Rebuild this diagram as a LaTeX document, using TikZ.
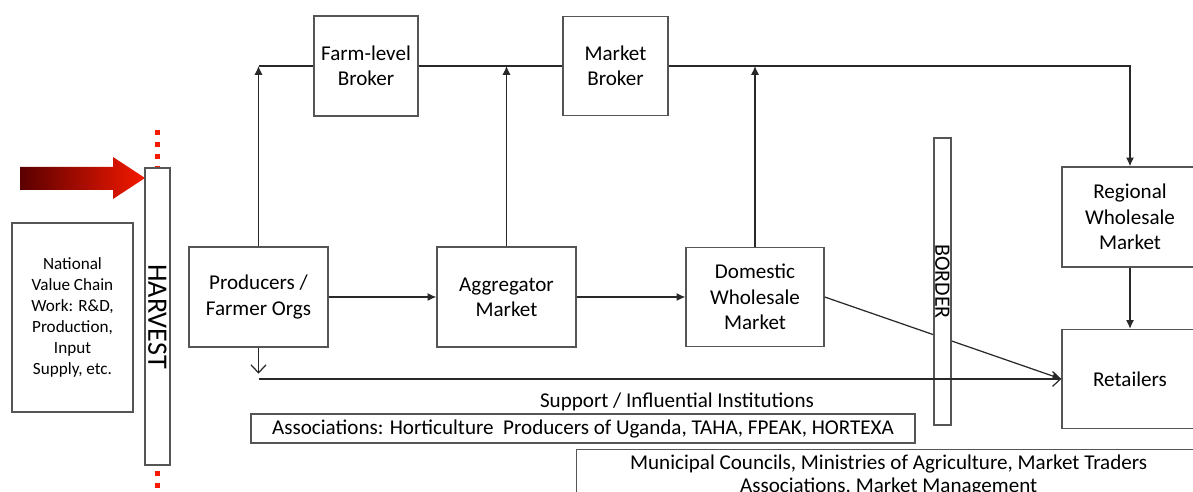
\documentclass[tikz,border=0pt]{standalone}
\usepackage{fontspec}
\setmainfont{Carlito}
\definecolor{BoxGray}{RGB}{85,85,85}
\definecolor{LineGray}{RGB}{40,40,40}
\definecolor{HarvestRed}{RGB}{245,25,0}
\definecolor{DarkRed}{RGB}{90,0,0}
\usetikzlibrary{arrows.meta,positioning,calc}

\begin{document}
\begin{tikzpicture}[x=0.02cm, y=-0.02cm,
    box/.style={draw=BoxGray, line width=0.8pt, fill=white, align=center, inner sep=1pt,
      font=\fontsize{12}{14.4}\selectfont},
    flow/.style={draw=LineGray, line width=0.7pt, -{Latex[length=5pt,width=4.6pt]}},
    plain/.style={draw=LineGray, line width=0.7pt},
    openflow/.style={plain, -{Straight Barb[length=4.5pt,width=8.5pt]}},
    harvestdots/.style={draw=HarvestRed, line width=2.4pt, dash pattern=on 2.8pt off 4pt}]
  \useasboundingbox (0,0) rectangle (1193,492);
  \clip (0,0) rectangle (1193,492);

  % harvest gate on the left
  \shade[left color=DarkRed, right color=HarvestRed] (20,167) -- (113,167) -- (113,157) -- (145,178) -- (113,199) -- (113,190) -- (20,190) -- cycle;
  \draw[harvestdots] (157.5,130) -- (157.5,166);
  \draw[harvestdots] (157.5,471) -- (157.5,494);
  \node[box, rotate=-90, minimum width=5.94cm, minimum height=0.5cm, inner sep=0pt,
    font=\fontsize{16}{18}\selectfont] (harvest) at (157.5,316.5) {HARVEST};
  \node[box, minimum width=2.42cm, minimum height=3.78cm,
    font=\fontsize{9.75}{11.9}\selectfont] (national) at (72.5,317.5)
    {National\\Value Chain\\Work: R\&D,\\Production,\\Input\\Supply, etc.};

  % main chain
  \node[box, minimum width=2.78cm, minimum height=2cm] (producers) at (258.5,297) {Producers /\\Farmer Orgs};
  \node[box, minimum width=2.78cm, minimum height=2cm] (aggregator) at (506.5,297) {Aggregator\\Market};
  \node[box, minimum width=2.76cm, minimum height=1.98cm] (domestic) at (755,297) {Domestic\\Wholesale\\Market};
  \node[box, minimum width=2.08cm, minimum height=2cm] (farmbroker) at (366,66) {Farm-level\\Broker};
  \node[box, minimum width=2.1cm, minimum height=1.98cm] (marketbroker) at (615.5,66) {Market\\Broker};
  \node[box, minimum width=2.72cm, minimum height=2cm] (regional) at (1130,217) {Regional\\Wholesale\\Market};
  \node[box, minimum width=2.72cm, minimum height=1.98cm] (retailers) at (1130,379) {Retailers};

  \draw[flow] (producers) -- (aggregator);
  \draw[flow] (aggregator) -- (domestic);
  \draw[flow] (producers.north) -- (producers.north |- farmbroker.west);
  \draw[flow] (aggregator.north) -- (aggregator.north |- farmbroker.east);
  \draw[flow] (domestic.north) -- (domestic.north |- marketbroker.east);
  \draw[plain] (producers.north |- farmbroker.west) -- (farmbroker.west);
  \draw[plain] (farmbroker.east) -- (marketbroker.west);
  \draw[flow] (marketbroker.east) -- (regional.north |- marketbroker.east) -- (regional.north);
  \draw[flow] (regional) -- (retailers);
  \draw[flow] (domestic.east) -- (retailers.west);

  % border sits over the export line
  \node[box, rotate=-90, minimum width=5.74cm, minimum height=0.34cm, inner sep=0pt,
    font=\fontsize{12.5}{14}\selectfont] (border) at (942.5,281.5) {BORDER};

  \coordinate (bus) at (258.5,379);
  \draw[openflow] (producers.south) -- ++(0,26);
  \draw[openflow] (bus) -- (retailers.west);

  % support institutions
  \node[font=\fontsize{12}{14}\selectfont] (support) at (677,402) {Support / Influential Institutions};
  \node[box, minimum width=13.28cm, minimum height=0.58cm] (associations) at (583,428.5)
    {Associations: Horticulture\ \ Producers of Uganda, TAHA, FPEAK, HORTEXA};
  \node[box, anchor=north west, minimum width=12.48cm, inner ysep=3pt,
    font=\fontsize{12}{13}\selectfont] (municipal) at (576,449)
    {Municipal Councils, Ministries of Agriculture, Market Traders\\Associations, Market Management};
\end{tikzpicture}
\end{document}
